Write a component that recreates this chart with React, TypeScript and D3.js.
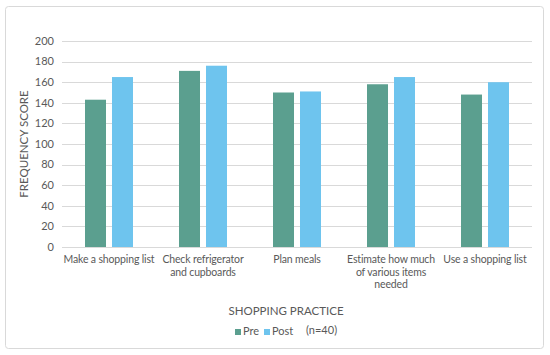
import { useEffect, useRef } from "react";
import * as d3 from "d3";

const categories = [
  ["Make a shopping list"],
  ["Check refrigerator", "and cupboards"],
  ["Plan meals"],
  ["Estimate how much", "of various items", "needed"],
  ["Use a shopping list"],
];
const seriesNames = ["Pre", "Post"];
const preValues = [143, 171, 150, 158, 148];
const postValues = [165, 176, 151, 165, 160];
const yTicks = [0, 20, 40, 60, 80, 100, 120, 140, 160, 180, 200];

const colors: Record<string, string> = { Pre: "#5b9f8f", Post: "#6ec4ee" };
const FONT = "Lato, 'Liberation Sans', sans-serif";

export default function App() {
  const svgRef = useRef<SVGSVGElement | null>(null);

  useEffect(() => {
    const svg = d3.select(svgRef.current);
    svg.selectAll("*").remove();

    const left = 62;
    const right = 532;
    const top = 41;
    const bottom = 247;

    // outer frame
    svg
      .append("rect")
      .attr("x", 5.5)
      .attr("y", 6.5)
      .attr("width", 538)
      .attr("height", 342)
      .attr("rx", 3)
      .attr("fill", "#fff")
      .attr("stroke", "#d9d9d9");

    const keys = categories.map((c) => c.join(" "));
    const x = d3.scaleBand().domain(keys).range([left, right]);
    const x1 = d3
      .scaleBand()
      .domain(seriesNames)
      .range([0, x.bandwidth()])
      .paddingInner(0.222)
      .paddingOuter(0.852);
    const y = d3.scaleLinear().domain([0, 200]).range([bottom, top]);

    // gridlines
    svg
      .append("g")
      .selectAll("line")
      .data(yTicks)
      .join("line")
      .attr("x1", left)
      .attr("x2", right)
      .attr("y1", (d) => Math.round(y(d)) + 0.5)
      .attr("y2", (d) => Math.round(y(d)) + 0.5)
      .attr("stroke", "#d9d9d9")
      .attr("stroke-width", 1);

    svg
      .append("g")
      .selectAll("text")
      .data(yTicks)
      .join("text")
      .attr("x", 54)
      .attr("y", (d) => y(d))
      .attr("dy", "0.35em")
      .attr("text-anchor", "end")
      .attr("font-size", 11)
      .attr("font-family", FONT)
      .attr("fill", "#595959")
      .text((d) => d);

    const data = keys.map((k, i) => ({ key: k, Pre: preValues[i], Post: postValues[i] }));

    const groups = svg
      .append("g")
      .selectAll("g")
      .data(data)
      .join("g")
      .attr("transform", (d) => `translate(${x(d.key)},0)`);

    groups
      .selectAll("rect")
      .data((d) => seriesNames.map((s) => ({ s, v: (d as any)[s] as number })))
      .join("rect")
      .attr("x", (d) => x1(d.s)!)
      .attr("width", x1.bandwidth())
      .attr("y", (d) => y(d.v))
      .attr("height", (d) => bottom - y(d.v))
      .attr("fill", (d) => colors[d.s]);

    // category labels
    const catLabels = svg
      .append("g")
      .selectAll("text")
      .data(categories)
      .join("text")
      .attr("x", (_, i) => x(keys[i])! + x.bandwidth() / 2)
      .attr("y", 263)
      .attr("text-anchor", "middle")
      .attr("font-size", 10.5)
      .attr("letter-spacing", -0.15)
      .attr("font-family", FONT)
      .attr("fill", "#595959");
    catLabels
      .selectAll("tspan")
      .data((d) => d.map((line, j) => ({ line, j })))
      .join("tspan")
      .attr("x", function () {
        return (this.parentNode as SVGTextElement).getAttribute("x");
      })
      .attr("dy", (d) => (d.j === 0 ? 0 : 12.5))
      .text((d) => d.line);

    // axis titles
    svg
      .append("text")
      .attr("transform", `translate(28,${(top + bottom) / 2}) rotate(-90)`)
      .attr("text-anchor", "middle")
      .attr("font-size", 11.5)
      .attr("font-family", FONT)
      .attr("fill", "#595959")
      .text("FREQUENCY SCORE");

    svg
      .append("text")
      .attr("x", 286)
      .attr("y", 315)
      .attr("text-anchor", "middle")
      .attr("font-size", 11.5)
      .attr("font-family", FONT)
      .attr("fill", "#595959")
      .text("SHOPPING PRACTICE");

    // legend
    const legend = svg.append("g").attr("font-family", FONT).attr("font-size", 11).attr("fill", "#595959");
    const legendItems = [
      { s: "Pre", x: 235 },
      { s: "Post", x: 264 },
    ];
    legendItems.forEach((it) => {
      legend
        .append("rect")
        .attr("x", it.x)
        .attr("y", 329)
        .attr("width", 6)
        .attr("height", 6)
        .attr("fill", colors[it.s]);
      legend
        .append("text")
        .attr("x", it.x + 8)
        .attr("y", 335)
        .text(it.s);
    });
    legend.append("text").attr("x", 306).attr("y", 334).text("(n=40)");
  }, []);

  return (
    <svg
      ref={svgRef}
      width={550}
      height={355}
      style={{ position: "absolute", left: 0, top: 0, background: "#fff" }}
    />
  );
}
